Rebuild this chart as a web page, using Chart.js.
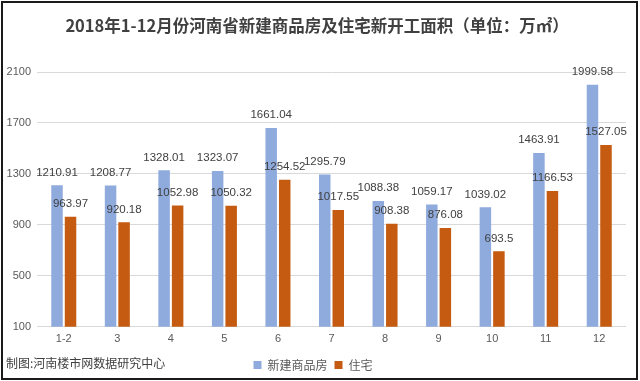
<!DOCTYPE html>
<html>
<head>
<meta charset="utf-8">
<script src="https://cdn.jsdelivr.net/npm/chart.js@4"></script>
<style>
html,body{margin:0;padding:0;background:#fff;}
#wrap{position:relative;width:640px;height:381px;}
#frame{position:absolute;left:1px;top:1px;width:633px;height:375px;border:2px solid #1a1a1a;pointer-events:none;}
#foot{position:absolute;left:6px;top:354px;font:12px "Noto Sans CJK SC",sans-serif;color:#404040;}
</style>
</head>
<body>
<div id="wrap">
<canvas id="c" width="640" height="381"></canvas>
<div id="frame"></div>
<div id="foot">制图:河南楼市网数据研究中心</div>
</div>
<script>
const titleText = "2018年1-12月份河南省新建商品房及住宅新开工面积（单位：万㎡）";
const categories = ["1-2","3","4","5","6","7","8","9","10","11","12"];
const seriesNames = ["新建商品房","住宅"];
const newCommercial = [1210.91,1208.77,1328.01,1323.07,1661.04,1295.79,1088.38,1059.17,1039.02,1463.91,1999.58];
const residential = [963.97,920.18,1052.98,1050.32,1254.52,1017.55,908.38,876.08,693.5,1166.53,1527.05];
const yTicks = [100,500,900,1300,1700,2100];

const titlePlugin = {
  id:'titleDraw',
  afterDraw(chart){
    const ctx = chart.ctx;
    ctx.save();
    ctx.font = 'bold 16.5px "Noto Sans CJK SC", sans-serif';
    ctx.fillStyle = '#404040';
    ctx.textAlign = 'center';
    ctx.textBaseline = 'middle';
    ctx.fillText(titleText, 317, 26);
    ctx.restore();
  }
};
const labelPlugin = {
  id:'barLabels',
  afterDatasetsDraw(chart){
    const ctx = chart.ctx;
    ctx.save();
    ctx.font = '11.5px "Liberation Sans", Arial, sans-serif';
    ctx.fillStyle = '#404040';
    ctx.textAlign = 'center';
    ctx.textBaseline = 'bottom';
    chart.data.datasets.forEach((ds,i)=>{
      chart.getDatasetMeta(i).data.forEach((bar,j)=>{
        ctx.fillText(String(ds.data[j]), bar.x, bar.y - 7);
      });
    });
    ctx.restore();
  }
};

new Chart(document.getElementById('c'), {
  type:'bar',
  data:{
    labels:categories,
    datasets:[
      {label:seriesNames[0], data:newCommercial, backgroundColor:'#8faadc', categoryPercentage:0.505, barPercentage:0.85},
      {label:seriesNames[1], data:residential, backgroundColor:'#c55a11', categoryPercentage:0.505, barPercentage:0.85}
    ]
  },
  options:{
    responsive:false,
    animation:false,
    layout:{padding:{top:72,right:14,left:0,bottom:0}},
    plugins:{
      legend:{position:'bottom', labels:{boxWidth:8, boxHeight:8, color:'#595959', font:{size:12, family:'"Noto Sans CJK SC", sans-serif'}, padding:7}},
      tooltip:{enabled:false},
      title:{display:false}
    },
    scales:{
      x:{grid:{display:false, drawTicks:false}, border:{display:false},
         ticks:{color:'#595959', font:{size:11, family:'"Liberation Sans", Arial, sans-serif'}, padding:6}},
      y:{min:100, max:2100,
         afterBuildTicks(s){ s.ticks = yTicks.map(v=>({value:v})); },
         afterFit(s){ s.width = 37; },
         grid:{color:'#d9d9d9', drawTicks:false}, border:{display:false},
         ticks:{color:'#595959', font:{size:11, family:'"Liberation Sans", Arial, sans-serif'}, padding:6,
                callback:(v)=>String(v)}}
    }
  },
  plugins:[titlePlugin, labelPlugin]
});
</script>
</body>
</html>
